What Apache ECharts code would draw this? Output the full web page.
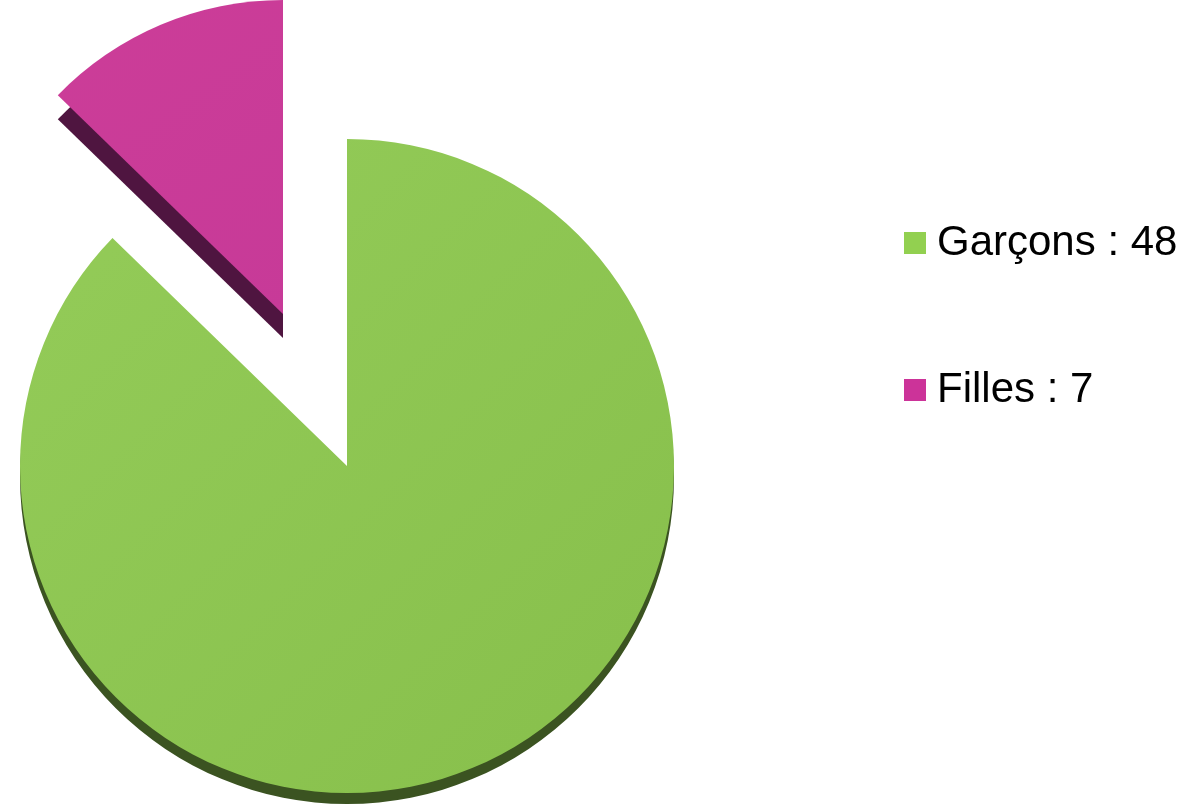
<!DOCTYPE html>
<html>
<head>
<meta charset="utf-8">
<script src="https://cdn.jsdelivr.net/npm/echarts@6/dist/echarts.min.js"></script>
<style>
  html, body { margin: 0; padding: 0; background: #ffffff; }
  #chart { width: 1195px; height: 806px; }
</style>
</head>
<body>
<div id="chart"></div>
<script>
// Pupils by gender
const categories = ['Garçons', 'Filles'];
const values = [48, 7];

const topColors = [
  { type: 'linear', x: 0, y: 0, x2: 1, y2: 1,
    colorStops: [{ offset: 0, color: '#94cc59' }, { offset: 1, color: '#87bf4b' }] },
  { type: 'linear', x: 0, y: 0, x2: 1, y2: 1,
    colorStops: [{ offset: 0, color: '#cc3d98' }, { offset: 1, color: '#c73a98' }] }
];
const sideColors = ['#3b5321', '#4f1540'];
const legendColors = ['#92d050', '#cc3399'];

// One pie that shows only the slice at index `show`; the other slice is left empty
function slice(show, center, radius, color, z) {
  return {
    type: 'pie',
    center: center,
    radius: radius,
    startAngle: 90,
    clockwise: true,
    z: z,
    silent: true,
    label: { show: false },
    labelLine: { show: false },
    emphasis: { disabled: true },
    itemStyle: { borderWidth: 0 },
    data: categories.map((name, i) => ({
      name: name,
      value: values[i],
      itemStyle: { color: i === show ? color : 'rgba(0,0,0,0)' }
    }))
  };
}

const chart = echarts.init(document.getElementById('chart'), null, { renderer: 'canvas' });

const legendText = {
  fontFamily: 'Liberation Sans, Arial, sans-serif',
  fontSize: 42,
  color: '#000000',
  lineHeight: 46,
  padding: [0, 0, 0, 6]
};

chart.setOption({
  backgroundColor: '#ffffff',
  animation: false,
  legend: [0, 1].map(i => ({
    orient: 'vertical',
    left: 899,
    top: i === 0 ? 215 : 362,
    itemWidth: 22,
    itemHeight: 22,
    itemGap: 0,
    icon: 'rect',
    selectedMode: false,
    textStyle: legendText,
    formatter: name => name + ' : ' + values[categories.indexOf(name)],
    data: [{ name: categories[i], itemStyle: { color: legendColors[i] } }]
  })),
  series: [
    // top faces
    slice(0, [347, 466], 327, topColors[0], 3),
    slice(1, [283, 314], 314, topColors[1], 3),
    // side walls, drawn underneath and shifted down
    slice(0, [347, 477], 327, sideColors[0], 1),
    slice(1, [283, 338], 314, sideColors[1], 1)
  ]
});
</script>
</body>
</html>
